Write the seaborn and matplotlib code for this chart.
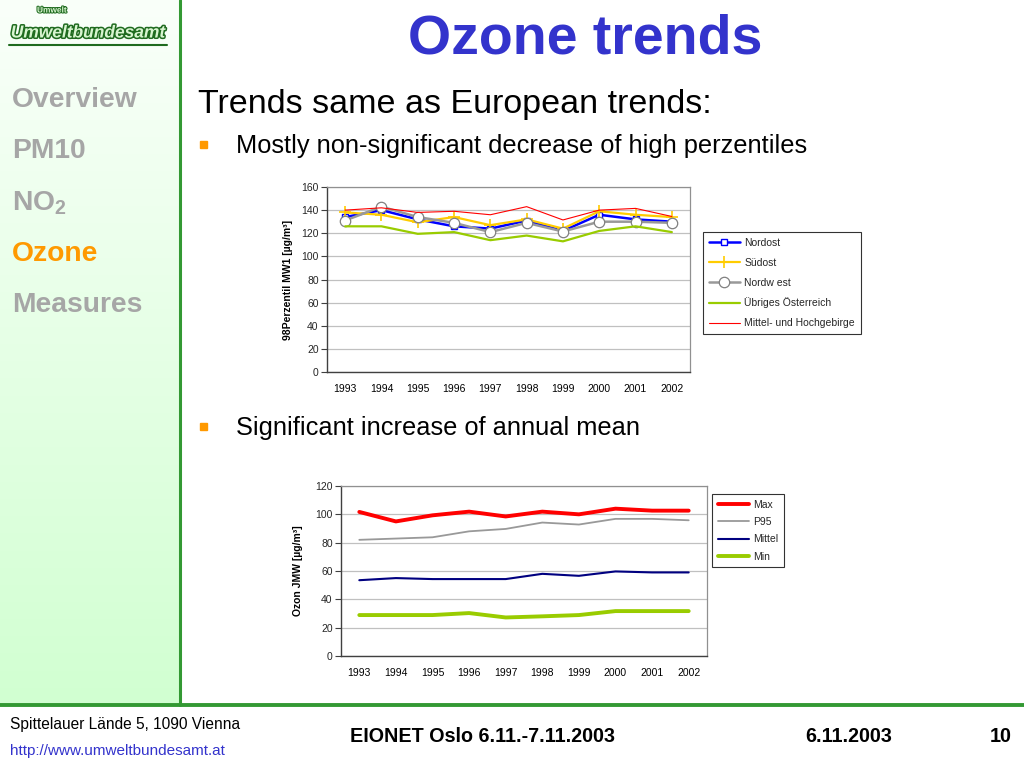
import matplotlib
matplotlib.use("Agg")
import matplotlib.pyplot as plt
import matplotlib.patheffects as pe
from matplotlib.patches import Rectangle
import numpy as np
import seaborn as sns

# ---------------- data ----------------
years = ["1993", "1994", "1995", "1996", "1997", "1998", "1999", "2000", "2001", "2002"]

# chart 1: 98 percentile of MW1
nordost = [134, 140, 132, 126, 124, 131, 122, 136, 132, 130]
suedost = [138, 136, 129.5, 134, 127, 132, 124, 139, 136, 134]
nordwest = [131, 143, 134, 129, 121, 129, 121.5, 130, 130, 129]
uebriges = [126, 126, 119.5, 121, 114, 118, 113, 122, 126, 121]
mittel_hoch = [140, 142, 138, 139, 136, 143, 131.5, 140, 141.5, 134.5]
series1_names = ["Nordost", "Südost", "Nordw est", "Übriges Österreich", "Mittel- und Hochgebirge"]

# chart 2: annual mean
jmw_max = [101.7, 95, 99.3, 101.9, 98.5, 101.9, 100, 104, 102.6, 102.6]
jmw_p95 = [82, 82.9, 83.8, 88, 89.7, 94.2, 92.8, 96.8, 96.8, 95.8]
jmw_mittel = [53.5, 55, 54.3, 54.3, 54.3, 58, 56.6, 59.7, 59, 59]
jmw_min = [28.9, 28.9, 28.9, 30.3, 27.2, 28, 28.9, 31.7, 31.7, 31.7]
series2_names = ["Max", "P95", "Mittel", "Min"]

sidebar_items = ["Overview", "PM10", "NO$_2$", "Ozone", "Measures"]

# ---------------- style ----------------
sns.set_theme(style="white")
plt.rcParams["font.family"] = ["Liberation Sans", "DejaVu Sans"]
plt.rcParams["mathtext.fontset"] = "custom"
plt.rcParams["mathtext.rm"] = "Liberation Sans:bold"
plt.rcParams["mathtext.it"] = "Liberation Sans:bold"
plt.rcParams["mathtext.bf"] = "Liberation Sans:bold"

W, H = 1024, 768
fig = plt.figure(figsize=(W / 100, H / 100), dpi=100)
fig.patch.set_facecolor("white")

# background / decoration axes in pixel coordinates
bg = fig.add_axes([0, 0, 1, 1], zorder=-5)
bg.axis("off")

# sidebar gradient
grad = np.linspace(0, 1, 256).reshape(-1, 1)
top_c = np.array([0.98, 1.0, 0.98])
bot_c = np.array([0.82, 1.0, 0.82])
img = top_c[None, None, :] * (1 - grad[:, :, None]) + bot_c[None, None, :] * grad[:, :, None]
bg.imshow(img, extent=[0, 180, 705, 0], aspect="auto", zorder=0)
bg.set_xlim(0, W)
bg.set_ylim(H, 0)

# green frame lines
bg.plot([180, 180], [0, 705], color="#339933", lw=2.2, zorder=2)
bg.plot([0, W], [705, 705], color="#339933", lw=2.8, zorder=2)

# logo
bg.text(88, 33, "Umweltbundesamt", fontsize=12.5, fontweight="bold", style="italic",
        color="#d8f5d0", ha="center", va="center",
        path_effects=[pe.withStroke(linewidth=2.2, foreground="#1f6b1f")], zorder=3)
bg.plot([9, 167], [45, 45], color="#1f6b1f", lw=1.5, zorder=3)
bg.text(52, 11, "Umwelt", fontsize=6, fontweight="bold", color="#d8f5d0", ha="center", va="center",
        path_effects=[pe.withStroke(linewidth=1.5, foreground="#1f6b1f")], zorder=3)

# sidebar menu
menu_y = [100, 151, 203, 254, 305]
for item, yy in zip(sidebar_items, menu_y):
    col = "#ff9900" if item == "Ozone" else "#a6a6a6"
    bg.text(12, yy, item, fontsize=20.3, fontweight="bold", color=col, ha="left", va="center", zorder=3)

# title and texts
bg.text(585, 40, "Ozone trends", fontsize=40, fontweight="bold", color="#3333cc",
        ha="center", va="center")
bg.text(198, 104, "Trends same as European trends:", fontsize=24.5, color="black",
        ha="left", va="center")
bg.add_patch(Rectangle((200, 141), 7, 7, color="#ff9900"))
bg.text(236, 146, "Mostly non-significant decrease of high perzentiles", fontsize=18.3,
        color="black", ha="left", va="center")
bg.add_patch(Rectangle((200, 423), 7, 7, color="#ff9900"))
bg.text(236, 428, "Significant increase of annual mean", fontsize=18.3,
        color="black", ha="left", va="center")

# footer
bg.text(10, 724, "Spittelauer Lände 5, 1090 Vienna", fontsize=11.2, color="black",
        ha="left", va="center")
bg.text(10, 751, "http://www.umweltbundesamt.at", fontsize=11, color="#3333cc",
        ha="left", va="center")
bg.text(350, 736, "EIONET Oslo 6.11.-7.11.2003", fontsize=14.2, fontweight="bold",
        color="black", ha="left", va="center")
bg.text(805, 736, "6.11.2003", fontsize=14.2, fontweight="bold", color="black",
        ha="left", va="center")
bg.text(990, 736, "10", fontsize=14.2, fontweight="bold", color="black",
        ha="left", va="center")


def style_axes(ax, ymax, ylabel, label_x):
    n = len(years)
    p = np.arange(n)
    ax.set_xlim(-0.5, n - 0.5)
    ax.set_ylim(0, ymax)
    ax.set_yticks(np.arange(0, ymax + 1, 20))
    ax.set_xticks(p)
    ax.set_xticklabels(years)
    ax.set_xticks(np.arange(-0.5, n, 1.0), minor=True)
    ax.tick_params(axis="x", which="major", length=0, labelsize=7.5, pad=9, colors="black")
    ax.tick_params(axis="x", which="minor", length=4, width=0.8, direction="out", color="#404040")
    ax.tick_params(axis="y", which="major", length=4, width=0.8, direction="out",
                   labelsize=7.5, color="#404040", left=True, pad=2)
    ax.yaxis.grid(True, color="#c0c0c0", lw=0.9)
    ax.xaxis.grid(False)
    ax.set_axisbelow(True)
    for s in ["left", "bottom"]:
        ax.spines[s].set_color("#404040")
        ax.spines[s].set_linewidth(1.0)
    for s in ["top", "right"]:
        ax.spines[s].set_color("#909090")
        ax.spines[s].set_linewidth(0.9)
    ax.set_facecolor("white")
    ax.set_ylabel(ylabel, fontsize=7.5, fontweight="bold", color="black")
    ax.yaxis.set_label_coords(label_x, 0.5)
    ax.set_xlabel("")


pos = np.arange(len(years))

# ---------------- chart 1 ----------------
l1, r1, t1, b1 = 327, 690, 187, 372
ax1 = fig.add_axes([l1 / W, 1 - b1 / H, (r1 - l1) / W, (b1 - t1) / H])
sns.lineplot(x=pos, y=nordost, ax=ax1, color="#0000ff", lw=1.8, marker="s", markersize=4.5,
             markerfacecolor="white", markeredgecolor="#0000ff", markeredgewidth=1.0,
             label=series1_names[0])
sns.lineplot(x=pos, y=suedost, ax=ax1, color="#ffcc00", lw=1.6, marker="+", markersize=8,
             markeredgecolor="#ffcc00", markeredgewidth=1.2, label=series1_names[1])
sns.lineplot(x=pos, y=nordwest, ax=ax1, color="#999999", lw=1.8, marker="o", markersize=7.5,
             markerfacecolor="white", markeredgecolor="#808080", markeredgewidth=0.9,
             label=series1_names[2])
sns.lineplot(x=pos, y=uebriges, ax=ax1, color="#99cc00", lw=1.6, label=series1_names[3])
sns.lineplot(x=pos, y=mittel_hoch, ax=ax1, color="#ff0000", lw=0.8, label=series1_names[4])
style_axes(ax1, 160, "98Perzentil MW1 [µg/m³]", -(l1 - 293) / (r1 - l1))
leg1 = ax1.legend(loc="upper left", bbox_to_anchor=(703 / W, 1 - 232 / H),
                  bbox_transform=fig.transFigure, frameon=True, fancybox=False,
                  fontsize=7.5, handlelength=3.0, borderpad=0.55, labelspacing=0.95,
                  handletextpad=0.4, borderaxespad=0)
leg1.get_frame().set_edgecolor("black")
leg1.get_frame().set_linewidth(0.8)

# ---------------- chart 2 ----------------
l2, r2, t2, b2 = 341, 707, 486, 656
ax2 = fig.add_axes([l2 / W, 1 - b2 / H, (r2 - l2) / W, (b2 - t2) / H])
sns.lineplot(x=pos, y=jmw_max, ax=ax2, color="#ff0000", lw=2.8, label=series2_names[0])
sns.lineplot(x=pos, y=jmw_p95, ax=ax2, color="#999999", lw=1.3, label=series2_names[1])
sns.lineplot(x=pos, y=jmw_mittel, ax=ax2, color="#000080", lw=1.5, label=series2_names[2])
sns.lineplot(x=pos, y=jmw_min, ax=ax2, color="#99cc00", lw=2.8, label=series2_names[3])
style_axes(ax2, 120, "Ozon JMW [µg/m³]", -(l2 - 303) / (r2 - l2))
leg2 = ax2.legend(loc="upper left", bbox_to_anchor=(712 / W, 1 - 494 / H),
                  bbox_transform=fig.transFigure, frameon=True, fancybox=False,
                  fontsize=7.5, handlelength=3.0, borderpad=0.55, labelspacing=0.7,
                  handletextpad=0.4, borderaxespad=0)
leg2.get_frame().set_edgecolor("black")
leg2.get_frame().set_linewidth(0.8)

fig.savefig("out.png", dpi=100)
